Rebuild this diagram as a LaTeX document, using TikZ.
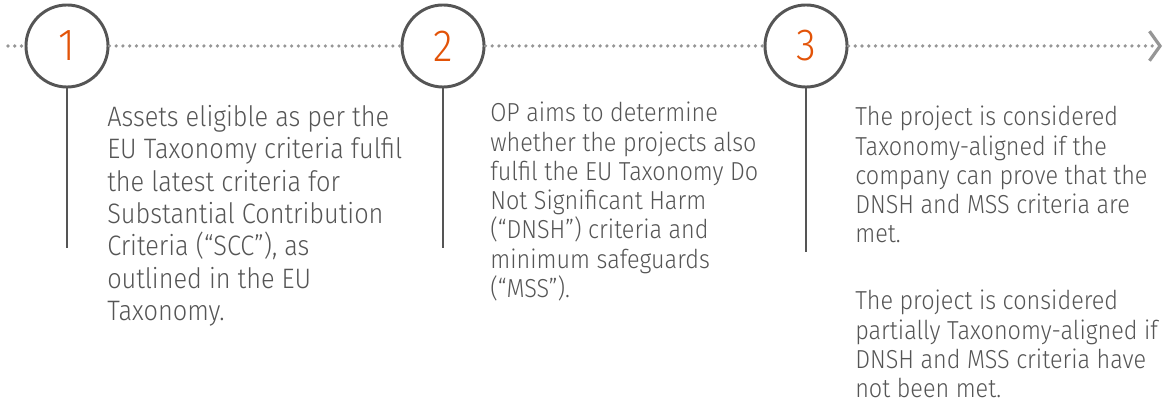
\documentclass[tikz,border=0pt]{standalone}
\usepackage{fontspec}
\setmainfont{Fira Sans Light}[FakeStretch=0.9]
\usetikzlibrary{arrows.meta}
\definecolor{ringgray}{RGB}{85,85,85}
\definecolor{dotgray}{RGB}{150,150,150}
\definecolor{txtgray}{RGB}{85,85,85}
\definecolor{numorange}{RGB}{226,83,8}
\begin{document}
\begin{tikzpicture}[x=0.025cm,y=-0.025cm]

\tikzstyle{ring}=[circle,draw=ringgray,line width=2.1pt,minimum size=2.05cm,inner sep=0pt,font=\fontsize{32}{32}\selectfont,text=numorange];
\tikzstyle{stem}=[draw=ringgray,line width=2.1pt];
\tikzstyle{track}=[draw=dotgray,line width=2.5pt,line cap=round,dash pattern=on 0pt off 4.8pt];
\tikzstyle{desc}=[anchor=north west,inner sep=0pt,align=left,text=txtgray];

\useasboundingbox (0,0) rectangle (1163,398);

\coordinate (v0) at (8,46);
\node[ring] (v1) at (67,46) {1};
\node[ring] (v2) at (443,46) {2};
\node[ring] (v3) at (806,46) {3};
\coordinate (v4) at (1162,46);

\draw[track] (v0) -- (v1);
\draw[track] (v1) -- (v2);
\draw[track] (v2) -- (v3);
\draw[track,-{Straight Barb[length=7.5pt,width=21pt,line width=2.3pt]}] (v3) -- (v4);

\coordinate (v1b) at (67,248);
\coordinate (v2b) at (443,248);
\coordinate (v3b) at (806,252);
\draw[stem] (v1) -- (v1b);
\draw[stem] (v2) -- (v2b);
\draw[stem] (v3) -- (v3b);

\node[desc,font=\fontsize{20}{23}\selectfont] (v1t) at (107,105) {Assets eligible as per the\\EU Taxonomy criteria fulfil\\the latest criteria for\\Substantial Contribution\\Criteria (“SCC”), as\\outlined in the EU\\Taxonomy.};
\node[desc,font=\fontsize{18.5}{20.8}\selectfont] (v2t) at (490,102) {OP aims to determine\\whether the projects also\\fulfil the EU Taxonomy Do\\Not Significant Harm\\(“DNSH”) criteria and\\minimum safeguards\\(“MSS”).};
\node[desc,font=\fontsize{18.5}{20.8}\selectfont] (v3t) at (855,106) {The project is considered\\Taxonomy-aligned if the\\company can prove that the\\DNSH and MSS criteria are\\met.};
\node[desc,font=\fontsize{18.5}{20.8}\selectfont] (v3u) at (855,290) {The project is considered\\partially Taxonomy-aligned if\\DNSH and MSS criteria have\\not been met.};
\end{tikzpicture}
\end{document}
